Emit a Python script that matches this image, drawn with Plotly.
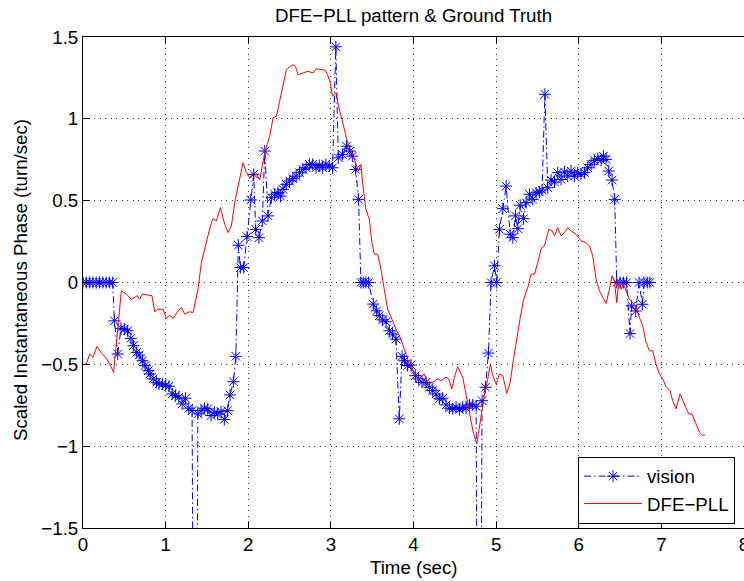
import plotly.graph_objects as go

# DFE-PLL estimate (turn/sec) over time (sec)
pll_t = [0.02, 0.04, 0.081, 0.121, 0.169, 0.222, 0.282, 0.323, 0.371, 0.404, 0.464, 0.525, 0.585,
         0.658, 0.686, 0.718, 0.787, 0.835, 0.868, 0.908, 0.969, 1.009, 1.049, 1.090, 1.138,
         1.190, 1.231, 1.283, 1.332, 1.392, 1.433, 1.485, 1.542, 1.574, 1.614, 1.663, 1.715,
         1.755, 1.796, 1.836, 1.897, 1.937, 1.977, 2.018, 2.058, 2.090, 2.139, 2.199, 2.260,
         2.300, 2.341, 2.401, 2.462, 2.502, 2.542, 2.571, 2.603, 2.663, 2.724, 2.785, 2.826,
         2.879, 2.931, 2.960, 2.988, 3.020, 3.061, 3.093, 3.141, 3.174, 3.214, 3.263, 3.303,
         3.335, 3.364, 3.384, 3.424, 3.465, 3.497, 3.525, 3.566, 3.606, 3.646, 3.687, 3.739,
         3.788, 3.848, 3.901, 3.949, 4.010, 4.071, 4.131, 4.172, 4.232, 4.293, 4.333, 4.394,
         4.426, 4.463, 4.495, 4.535, 4.596, 4.636, 4.677, 4.725, 4.766, 4.798, 4.826, 4.859,
         4.899, 4.931, 4.960, 5.000, 5.040, 5.081, 5.129, 5.170, 5.210, 5.250, 5.290, 5.330,
         5.383, 5.423, 5.464, 5.504, 5.544, 5.585, 5.637, 5.677, 5.706, 5.746, 5.786, 5.827,
         5.867, 5.907, 5.968, 6.028, 6.089, 6.129, 6.169, 6.210, 6.250, 6.290, 6.331, 6.371,
         6.403, 6.431, 6.460, 6.484, 6.512, 6.540, 6.573, 6.613, 6.653, 6.694, 6.734, 6.774,
         6.815, 6.855, 6.895, 6.935, 6.976, 7.016, 7.056, 7.105, 7.137, 7.177, 7.226, 7.266,
         7.298, 7.331, 7.371, 7.411, 7.460, 7.500, 7.528]
pll_v = [-0.50, -0.498, -0.437, -0.457, -0.390, -0.431, -0.463, -0.498, -0.549, -0.366, -0.051,
         -0.071, -0.102, -0.081, -0.102, -0.071, -0.077, -0.081, -0.179, -0.163, -0.163, -0.220,
         -0.199, -0.220, -0.183, -0.152, -0.193, -0.179, -0.183, -0.041, 0.122, 0.224, 0.346,
         0.390, 0.376, 0.457, 0.356, 0.305, 0.346, 0.488, 0.650, 0.732, 0.671, 0.640, 0.667,
         0.671, 0.626, 0.793, 0.894, 1.006, 1.016, 1.159, 1.301, 1.317, 1.331, 1.321, 1.270,
         1.280, 1.291, 1.280, 1.307, 1.301, 1.297, 1.270, 1.230, 1.138, 1.159, 1.077, 0.976,
         0.925, 0.833, 0.783, 0.732, 0.681, 0.722, 0.610, 0.447, 0.386, 0.244, 0.173, 0.173,
         0.081, -0.041, -0.163, -0.224, -0.285, -0.346, -0.427, -0.498, -0.559, -0.589, -0.559,
         -0.620, -0.610, -0.589, -0.600, -0.579, -0.589, -0.650, -0.579, -0.514, -0.579, -0.687,
         -0.803, -0.921, -0.986, -0.880, -0.772, -0.687, -0.589, -0.498, -0.569, -0.620, -0.559,
         -0.569, -0.677, -0.610, -0.470, -0.330, -0.220, -0.110, -0.030, 0.051, 0.051, 0.122,
         0.207, 0.224, 0.325, 0.315, 0.285, 0.335, 0.285, 0.305, 0.335, 0.315, 0.295, 0.254,
         0.244, 0.224, 0.163, 0.020, -0.051, -0.091, -0.128, -0.041, 0.041, 0.010, -0.122, 0.0,
         -0.041, -0.010, -0.051, -0.102, -0.122, -0.152, -0.213, -0.264, -0.366, -0.417, -0.417,
         -0.498, -0.559, -0.589, -0.636, -0.661, -0.722, -0.772, -0.681, -0.732, -0.772, -0.803,
         -0.803, -0.850, -0.915, -0.935, -0.931]

# Vision-based estimate (turn/sec); the two dropouts fall far below the axis
vision_t = [0.00, 0.04, 0.08, 0.12, 0.16, 0.20, 0.24, 0.28, 0.32, 0.36, 0.38, 0.42, 0.46, 0.50,
            0.54, 0.58, 0.61, 0.65, 0.68, 0.72, 0.75, 0.79, 0.81, 0.85, 0.89, 0.92, 0.96, 1.00,
            1.04, 1.08, 1.12, 1.16, 1.20, 1.24, 1.28, 1.32, 1.36, 1.39, 1.43, 1.47, 1.51, 1.55,
            1.59, 1.63, 1.67, 1.71, 1.75, 1.78, 1.82, 1.85, 1.88, 1.905, 1.945, 1.985, 2.03,
            2.066, 2.09, 2.13, 2.17, 2.20, 2.24, 2.28, 2.32, 2.36, 2.39, 2.42, 2.46, 2.50, 2.54,
            2.58, 2.62, 2.66, 2.70, 2.74, 2.78, 2.82, 2.86, 2.90, 2.94, 2.98, 3.02, 3.06, 3.09,
            3.14, 3.19, 3.23, 3.26, 3.30, 3.335, 3.364, 3.392, 3.424, 3.457, 3.513, 3.554, 3.586,
            3.626, 3.667, 3.707, 3.747, 3.788, 3.828, 3.861, 3.889, 3.929, 3.970, 4.022, 4.063,
            4.103, 4.152, 4.192, 4.232, 4.273, 4.313, 4.354, 4.394, 4.434, 4.475, 4.515, 4.556,
            4.596, 4.636, 4.677, 4.717, 4.758, 4.79, 4.830, 4.871, 4.907, 4.939, 4.980, 5.008,
            5.040, 5.081, 5.121, 5.170, 5.202, 5.234, 5.263, 5.291, 5.331, 5.364, 5.403, 5.444,
            5.484, 5.524, 5.556, 5.59, 5.625, 5.665, 5.706, 5.746, 5.786, 5.827, 5.867, 5.907,
            5.948, 5.988, 6.028, 6.069, 6.109, 6.149, 6.190, 6.230, 6.270, 6.298, 6.331, 6.363,
            6.403, 6.435, 6.46, 6.50, 6.54, 6.58, 6.62, 6.64, 6.69, 6.73, 6.77, 6.79, 6.83, 6.86]
vision_v = [0, 0, 0, 0, 0, 0, 0, 0, 0, 0, -0.234, -0.437, -0.280, -0.285, -0.295, -0.341, -0.386,
            -0.427, -0.443, -0.478, -0.508, -0.539, -0.559, -0.589, -0.610, -0.620, -0.620,
            -0.630, -0.634, -0.681, -0.691, -0.701, -0.742, -0.707, -0.768, -0.783, -5.0, -0.803,
            -0.783, -0.768, -0.772, -0.813, -0.793, -0.803, -0.789, -0.837, -0.783, -0.687,
            -0.606, -0.451, 0.228, 0.091, 0.091, 0.280, 0.504, 0.661, 0.325, 0.274, 0.376, 0.803,
            0.407, 0.518, 0.539, 0.549, 0.528, 0.569, 0.600, 0.620, 0.634, 0.650, 0.671, 0.691,
            0.701, 0.722, 0.722, 0.701, 0.715, 0.701, 0.722, 0.711, 0.701, 1.44, 0.762, 0.783,
            0.833, 0.803, 0.772, 0.691, 0.508, 0, 0, 0, 0, -0.132, -0.173, -0.203, -0.228,
            -0.240, -0.295, -0.315, -0.346, -0.833, -0.451, -0.478, -0.508, -0.504, -0.569,
            -0.589, -0.610, -0.610, -0.640, -0.661, -0.681, -0.711, -0.707, -0.748, -0.768,
            -0.772, -0.762, -0.776, -0.762, -0.768, -0.748, -0.748, -0.756, -5.0, -0.722, -0.640,
            -0.431, 0.0, 0.102, 0.0, 0.325, 0.451, 0.589, 0.295, 0.274, 0.407, 0.329, 0.472,
            0.390, 0.488, 0.539, 0.508, 0.549, 0.553, 0.565, 1.15, 0.579, 0.626, 0.614, 0.671,
            0.630, 0.675, 0.650, 0.681, 0.650, 0.671, 0.661, 0.671, 0.701, 0.722, 0.746, 0.756,
            0.748, 0.772, 0.752, 0.681, 0.626, 0.508, 0, 0, 0, 0, -0.312, -0.143, -0.174, 0,
            -0.133, 0, 0, 0]

x_ticks = [0, 1, 2, 3, 4, 5, 6, 7, 8]
y_ticks = [-1.5, -1, -0.5, 0, 0.5, 1, 1.5]

FONT = "Liberation Sans, Arial, Helvetica, sans-serif"
FS = 18.7
W, H = 744, 581
ML, MR, MT, MB = 83, 0, 37, 53
PW, PH = W - ML - MR, H - MT - MB

fig = go.Figure()
fig.add_trace(go.Scatter(
    x=vision_t, y=vision_v, name="vision", mode="lines+markers",
    line=dict(color="#0000ff", width=1, dash="7px,3px,1.5px,3px"),
    marker=dict(symbol="asterisk-open", size=10, color="#0000ff",
                line=dict(color="#0000ff", width=1)),
))
fig.add_trace(go.Scatter(
    x=pll_t, y=pll_v, name="DFE\u2212PLL", mode="lines",
    line=dict(color="#ff0000", width=1),
))

axis_common = dict(
    showline=True, linecolor="black", linewidth=1,
    ticks="inside", ticklen=6, tickcolor="black", tickwidth=1,
    showgrid=True, gridcolor="#333333", gridwidth=1, griddash="1px,4.5px",
    zeroline=False, automargin=False,
    tickfont=dict(family=FONT, size=FS, color="black"),
)

fig.update_layout(
    width=W, height=H,
    margin=dict(l=ML, r=MR, t=MT, b=MB, autoexpand=False),
    paper_bgcolor="white", plot_bgcolor="white",
    font=dict(family=FONT, size=FS, color="black"),
    title=dict(text="DFE\u2212PLL pattern & Ground Truth", x=(ML + PW / 2) / W, xanchor="center",
               yref="container", y=1 - 15.5 / H, yanchor="middle",
               font=dict(family=FONT, size=FS, color="black")),
    xaxis=dict(range=[0, 8], tickvals=x_ticks, mirror="ticks", ticklabeloverflow="allow",
               **axis_common),
    yaxis=dict(range=[-1.5, 1.5], tickvals=y_ticks, mirror=False, **axis_common),
    yaxis2=dict(range=[-1.5, 1.5], tickvals=y_ticks, overlaying="y", side="right", anchor="x",
                showline=False, showgrid=False, zeroline=False, showticklabels=False,
                automargin=False,
                ticks="inside", ticklen=6, tickcolor="black", tickwidth=1),
    showlegend=True,
    legend=dict(x=(735 - ML) / PW, xanchor="right", y=(528 - 490) / PH, yanchor="middle",
                bgcolor="white", bordercolor="black", borderwidth=1,
                font=dict(family=FONT, size=FS, color="black"),
                itemwidth=58, tracegroupgap=0),
    annotations=[
        dict(text="Time (sec)", xref="paper", yref="paper", x=0.5, y=(528 - 567.5) / PH,
             xanchor="center", yanchor="middle", showarrow=False,
             font=dict(family=FONT, size=FS, color="black")),
        dict(text="Scaled Instantaneous Phase (turn/sec)", xref="paper", yref="paper",
             x=(20 - ML) / PW, y=(528 - 280) / PH, textangle=-90,
             xanchor="center", yanchor="middle", showarrow=False,
             font=dict(family=FONT, size=FS, color="black")),
    ],
)

fig.write_html("out.html")
